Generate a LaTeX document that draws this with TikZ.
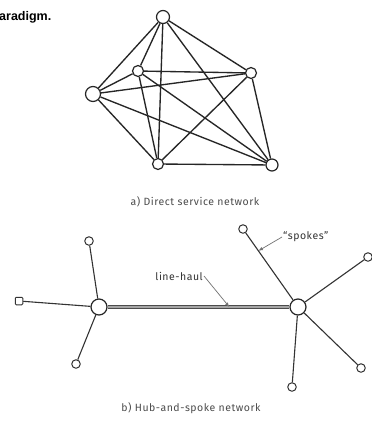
\documentclass[tikz,border=0pt]{standalone}
\usepackage{fontspec}
\setmainfont{Fira Sans}
\newfontfamily\capfont[LetterSpace=5]{Fira Sans}
\newfontfamily\boldfont{Liberation Sans}
\usetikzlibrary{arrows.meta,calc}
\begin{document}
\begin{tikzpicture}[x=1pt,y=-1pt,
  nd/.style={circle,draw=black!85,line width=1.2pt,fill=white,inner sep=0pt},
  sn/.style={circle,draw=black!80,line width=1pt,fill=white,inner sep=0pt,minimum size=8.5pt},
  sq/.style={rectangle,rounded corners=1pt,draw=black!80,line width=1pt,fill=white,inner sep=0pt,minimum size=7.5pt},
  edge/.style={draw=black!85,line width=1.35pt},
  spoke/.style={draw=black!80,line width=1.1pt},
  haul/.style={draw=black!70,line width=0.9pt,double=black!35,double distance=2.6pt},
  lead/.style={draw=black!55,line width=0.7pt,-{Latex[length=4.5pt,width=3.5pt]}},
  captext/.style={font=\capfont\fontsize{10.5}{12}\selectfont,text=black!70,inner sep=0pt},
  lbl/.style={font=\capfont\fontsize{10.5}{12}\selectfont,text=black!80,inner sep=1pt}]
\useasboundingbox (0,0) rectangle (372,426);
\fill[white] (0,0) rectangle (372,426);
% header fragment
\node[anchor=west,inner sep=0pt,font=\boldfont\bfseries\fontsize{12.5}{14}\selectfont] (hdr) at (-1,17) {aradigm.};
% a) direct service network
\node[nd,minimum size=13pt] (T) at (163,17) {};
\node[nd,minimum size=15pt] (L) at (93,94) {};
\node[nd,minimum size=11pt] (I) at (138,71) {};
\node[nd,minimum size=11pt] (R) at (251,73) {};
\node[nd,minimum size=11pt] (BL) at (158,164) {};
\node[nd,minimum size=12pt] (BR) at (272,165) {};
\foreach \a/\b in {T/L,T/I,T/R,T/BL,T/BR,L/I,L/R,L/BL,L/BR,I/R,I/BL,I/BR,R/BL,R/BR,BL/BR}
  \draw[edge] (\a) -- (\b);
\node[captext] (capa) at (195,202) {a) Direct service network};
% b) hub-and-spoke
\node[nd,minimum size=16pt] (H1) at (99,307) {};
\node[nd,minimum size=16pt] (H2) at (298,307) {};
\node[sn] (a1) at (89,241) {};
\node[sq] (a2) at (19,301) {};
\node[sn] (a3) at (76,364) {};
\node[sn] (b1) at (243,229) {};
\node[sn] (b2) at (368,257) {};
\node[sn] (b3) at (361,368) {};
\node[sn] (b4) at (292,387) {};
\draw[haul] (H1) -- (H2);
\foreach \s in {a1,a2,a3} \draw[spoke] (H1) -- (\s);
\foreach \s in {b1,b2,b3,b4} \draw[spoke] (H2) -- (\s);
\coordinate (lh) at ($(H1)!0.655!(H2)$);
\coordinate (sp) at ($(H2)!0.72!(b1)$);
\node[lbl,anchor=east] (lhl) at (204,276) {line-haul};
\node[lbl,anchor=west] (spl) at (282,237) {“spokes”};
\draw[lead] (lhl.east) -- (lh);
\draw[lead] (spl.west) -- (sp);
\node[captext] (capb) at (191,408) {b) Hub-and-spoke network};
\end{tikzpicture}
\end{document}
